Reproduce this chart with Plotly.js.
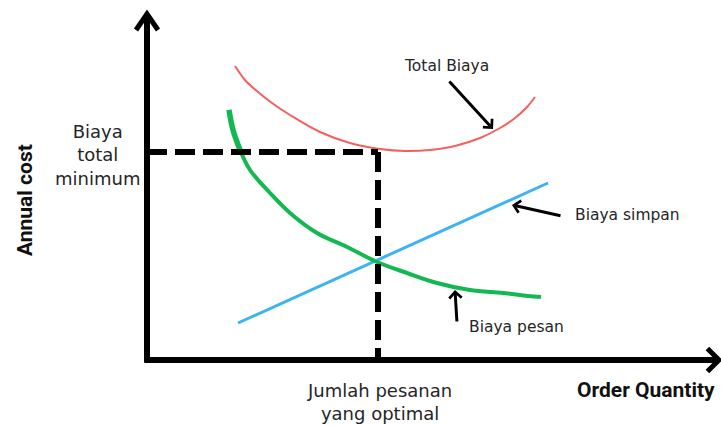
<!DOCTYPE html>
<html>
<head>
<meta charset="utf-8">
<script src="https://cdn.plot.ly/plotly-3.0.1.min.js"></script>
<style>html,body{margin:0;padding:0;background:#fff;}#chart{width:721px;height:425px;}</style>
</head>
<body>
<div id="chart"></div>
<script>
// Total cost curve (Total Biaya)
const qTotal    = [22, 24.5, 27.75, 31.25, 35.75, 43.25, 50.75, 58.25, 64.5, 70.75, 77, 83.25, 88.25, 92, 95, 97];
const costTotal = [73.5, 70, 67, 64.25, 61.25, 57, 54.25, 52.75, 52.25, 52.5, 53.5, 55.5, 58, 60.5, 63.25, 65.75];
// Ordering cost curve (Biaya pesan)
const qOrder    = [20.5, 21.5, 23.25, 25.75, 30.75, 35.75, 42.5, 50, 57.5, 65, 72.5, 80.75, 89, 95.25, 98.5];
const costOrder = [62.5, 57.5, 52.5, 47.5, 41.75, 36.75, 31.75, 28.25, 24.5, 21.75, 19.25, 17.5, 16.75, 16, 15.75];
// Holding cost line (Biaya simpan)
const qHold     = [22.75, 100.25];
const costHold  = [9.25, 44.25];
// Optimum
const optQ = 57.75;
const minCost = 52;
// Axis extents
const xMax = 143;
const yMax = 86.5;

const FONT = 'DejaVu Sans, Open Sans, sans-serif';
const BOLD = 'Roboto, Liberation Sans, sans-serif';
const TXT = '#262626';

const traces = [
  {x: qTotal, y: costTotal, mode: 'lines', line: {color: '#f4605f', width: 2, shape: 'spline'}, hoverinfo: 'skip'},
  {x: qHold, y: costHold, mode: 'lines', line: {color: '#3cb4f2', width: 3}, hoverinfo: 'skip'},
  {x: qOrder, y: costOrder, mode: 'lines', line: {color: '#14b852', width: 4, shape: 'spline'}, hoverinfo: 'skip'},
  {x: qOrder.slice(0, 3), y: costOrder.slice(0, 3), mode: 'lines', line: {color: '#14b852', width: 5.5, shape: 'spline'}, hoverinfo: 'skip'},
  {x: [0, optQ], y: [minCost, minCost], mode: 'lines', line: {color: '#000', width: 6, dash: '20px,8px'}, hoverinfo: 'skip'},
  {x: [optQ, optQ], y: [minCost, 0.5], mode: 'lines', line: {color: '#000', width: 6, dash: '20px,8px'}, hoverinfo: 'skip'}
];

const shapes = [
  {type: 'line', xref: 'x', yref: 'y', x0: 0, y0: -0.6, x1: 0, y1: yMax - 0.3, line: {color: '#000', width: 6}},
  {type: 'path', xref: 'x', yref: 'y', path: `M -2.75 ${yMax - 4} L 0 ${yMax} L 2.75 ${yMax - 4}`, line: {color: '#000', width: 5}},
  {type: 'line', xref: 'x', yref: 'y', x0: -0.6, y0: 0, x1: xMax - 0.3, y1: 0, line: {color: '#000', width: 6}},
  {type: 'path', xref: 'x', yref: 'y', path: `M ${xMax - 2.9} 2.9 L ${xMax} 0 L ${xMax - 2.9} -2.9`, line: {color: '#000', width: 5}}
];

function label(text, x, y, opts) {
  return Object.assign({text: text, x: x, y: y, xref: 'x', yref: 'y', showarrow: false,
    font: {family: FONT, size: 18, color: TXT}, xanchor: 'center', yanchor: 'middle'}, opts || {});
}
function pointer(x, y, ax, ay) {
  return {text: '', x: x, y: y, xref: 'x', yref: 'y', ax: ax, ay: ay, showarrow: true,
    arrowhead: 4, arrowsize: 0.8, arrowwidth: 3, arrowcolor: '#000', standoff: 0, startstandoff: 0};
}

const annotations = [
  label('Total Biaya', 74.75, 73.5, {font: {family: FONT, size: 15.5, color: TXT}}),
  label('Biaya simpan', 106.5, 36.25, {xanchor: 'left', font: {family: FONT, size: 15.5, color: TXT}}),
  label('Biaya pesan', 80, 8.25, {xanchor: 'left', font: {family: FONT, size: 15.5, color: TXT}}),
  label('Biaya<br>total<br>minimum', -12.5, 51.25),
  label('Jumlah pesanan<br>yang optimal', 58, -10.4),
  label('<b>Order Quantity</b>', 142.5, -7.5, {xanchor: 'right', font: {family: BOLD, size: 21, color: '#111'}}),
  label('<b>Annual cost</b>', -30.5, 40, {textangle: -90, font: {family: BOLD, size: 21, color: '#111'}}),
  pointer(86.5, 57.75, -45, -49),
  pointer(91.25, 38.75, 50, 11),
  pointer(77, 17.5, 2, 33)
];

const layout = {
  width: 721, height: 425,
  margin: {l: 0, r: 0, t: 0, b: 0, pad: 0},
  paper_bgcolor: '#fff', plot_bgcolor: '#fff',
  showlegend: false,
  xaxis: {range: [-36.75, 143.5], visible: false, fixedrange: true},
  yaxis: {range: [-16.25, 90], visible: false, fixedrange: true},
  shapes: shapes,
  annotations: annotations
};

Plotly.newPlot('chart', traces, layout, {staticPlot: true, displayModeBar: false});
</script>
</body>
</html>
